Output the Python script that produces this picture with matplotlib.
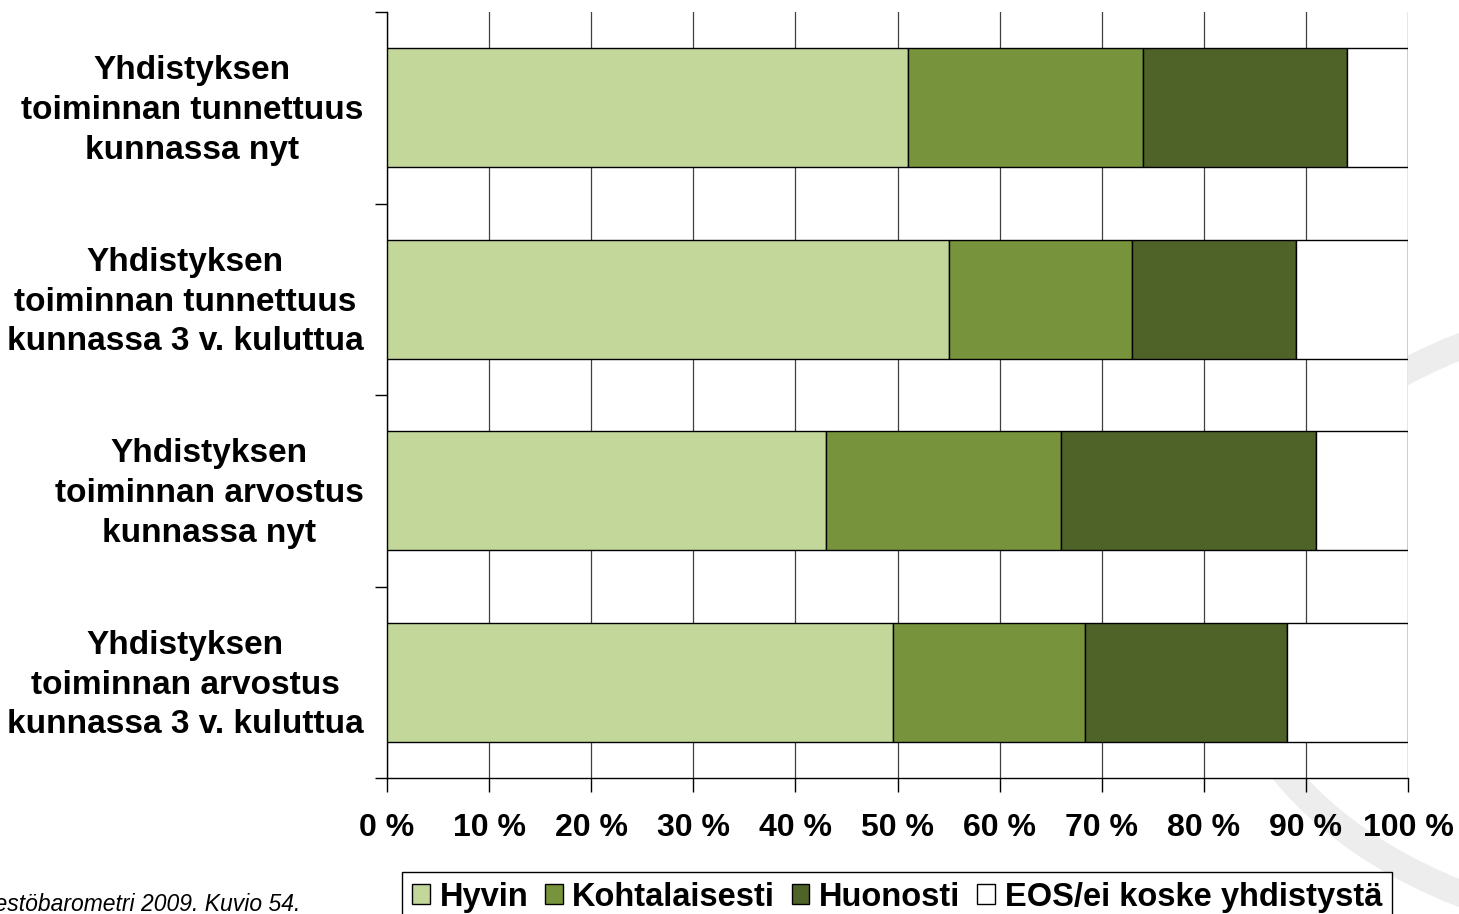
import matplotlib
matplotlib.use("Agg")
import matplotlib.pyplot as plt
from matplotlib.patches import Arc
from matplotlib.ticker import FixedLocator
import numpy as np

plt.rcParams['font.family'] = ['Liberation Sans', 'DejaVu Sans']

# Aineisto
kategoriat = [
    "Yhdistyksen\ntoiminnan tunnettuus\nkunnassa nyt",
    "Yhdistyksen\ntoiminnan tunnettuus\nkunnassa 3 v. kuluttua",
    "Yhdistyksen\ntoiminnan arvostus\nkunnassa nyt",
    "Yhdistyksen\ntoiminnan arvostus\nkunnassa 3 v. kuluttua",
]
sarjat = ["Hyvin", "Kohtalaisesti", "Huonosti", "EOS/ei koske yhdistystä"]
hyvin = [51.0, 55.0, 43.0, 49.6]
kohtalaisesti = [23.0, 18.0, 23.0, 18.8]
huonosti = [20.0, 16.0, 25.0, 19.7]
eos = [6.0, 11.0, 9.0, 11.9]
varit = ["#C4D79B", "#77933C", "#4F6228", "#FFFFFF"]
x_tikit = [f"{v} %" for v in range(0, 101, 10)]

W, H = 1459, 914
fig = plt.figure(figsize=(W / 100, H / 100), dpi=100)

# vesileiman kaari taustalla (pikseleinä -> tuumina)
kaari = Arc((1700 / 100, (H - 620) / 100), 9.48, 6.34, color="#EDEDED",
            lw=19, transform=fig.dpi_scale_trans, zorder=0)
fig.patches.append(kaari)

ax = fig.add_axes([387 / W, 1 - 778 / H, (1408 - 387) / W, (778 - 12) / H])
ax.set_zorder(1)

y = np.arange(len(kategoriat))
vasen = np.zeros(len(kategoriat))
for nimi, arvot, vari in zip(sarjat, [hyvin, kohtalaisesti, huonosti, eos], varit):
    ax.barh(y, arvot, left=vasen, height=0.62, color=vari, edgecolor="black",
            linewidth=1.0, label=nimi, zorder=3)
    vasen += np.array(arvot)

ax.set_xlim(0, 100)
ax.set_ylim(len(kategoriat) - 0.5, -0.5)
ax.set_xticks(range(0, 101, 10))
ax.set_xticklabels(x_tikit, fontsize=23, fontweight="bold")
# nimiöt hieman ylemmäs (pääjakoviivat ovat näkymättömiä)
ax.set_yticks(y - 0.026)
ax.set_yticklabels(kategoriat, fontsize=24, fontweight="bold", linespacing=1.36)
for t in ax.get_yticklabels():
    t.set_multialignment("center")
ax.yaxis.set_minor_locator(FixedLocator(np.arange(-0.5, len(kategoriat), 1.0)))
ax.tick_params(axis="y", which="major", length=0, pad=17)
ax.tick_params(axis="y", which="minor", length=9, width=1, color="black")
ax.tick_params(axis="x", length=10, width=1, pad=15)

ax.grid(axis="x", color="#404040", linewidth=0.9, zorder=1)
ax.set_axisbelow(True)
for s in ["top", "right"]:
    ax.spines[s].set_visible(False)
for s in ["left", "bottom"]:
    ax.spines[s].set_color("black")
    ax.spines[s].set_linewidth(1.0)

leg = fig.legend(loc="upper left", bbox_to_anchor=(402 / W, 1 - 872 / H),
                 ncol=4, prop={"weight": "bold", "size": 23.5},
                 frameon=True, fancybox=False, edgecolor="black", framealpha=1,
                 handlelength=0.55, handleheight=0.55, handletextpad=0.3,
                 columnspacing=0.5, borderaxespad=0, borderpad=0.3)
leg.get_frame().set_linewidth(1.0)

fig.text(300 / W, 1 - 905 / H, "Lähde: Järjestöbarometri 2009. Kuvio 54.",
         ha="right", va="center", fontsize=16.5, style="italic")

fig.savefig("out.png", dpi=100)
